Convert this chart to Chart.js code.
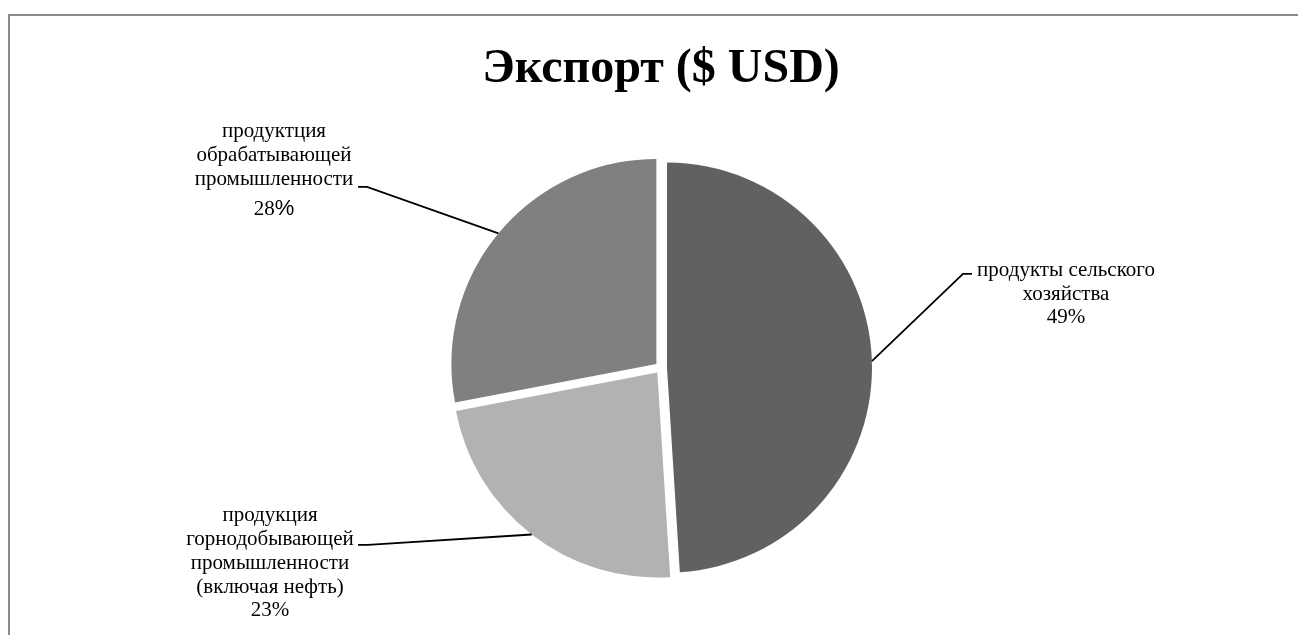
<!DOCTYPE html>
<html lang="ru">
<head>
<meta charset="utf-8">
<title>Экспорт ($ USD)</title>
<script src="https://cdn.jsdelivr.net/npm/chart.js@4"></script>
<style>
    html, body { margin: 0; padding: 0; background: #fff; overflow: hidden; }
    #frame {
        position: absolute; left: 8px; top: 14px;
        width: 1320px; height: 680px;
        border: 2px solid #8a8a8a;
    }
    #box { position: absolute; left: 0; top: 0; width: 1300px; height: 660px; }
</style>
</head>
<body>
<div id="frame"><div id="box"><canvas id="exportChart"></canvas></div></div>
<script>
// Export structure, shares in percent
const categories = [
    ['продукты сельского', 'хозяйства'],
    ['продукция', 'горнодобывающей', 'промышленности', '(включая нефть)'],
    ['продуктция', 'обрабатывающей', 'промышленности']
];
const shares = [49, 23, 28];
const sliceColors = ['#616161', '#b2b2b2', '#808080'];

// how far each slice is pulled out of the pie, px
const explode = 6;

// label placement relative to the pie centre: text centre x, baselines, leader elbow
const labelPlacement = [
    {x: 405, baselines: [-92, -68, -45], elbow: [302, -94], hook: 311},
    {x: -391, baselines: [153, 177, 201, 225, 248], elbow: [-293, 177], hook: -303},
    {x: -387, baselines: [-231, -207, -183, -153], elbow: [-294, -181], hook: -303, pctFont: '22px "Liberation Sans"'}
];
const labelFont = '21px "Liberation Serif"';

// draws the slices pulled apart along their middle angle
const explodedPie = {
    id: 'explodedPie',
    beforeDatasetsDraw(chart) {
        const ctx = chart.ctx;
        chart.getDatasetMeta(0).data.forEach((arc, i) => {
            const {x, y, startAngle, endAngle, outerRadius} = arc.getProps(['x', 'y', 'startAngle', 'endAngle', 'outerRadius'], true);
            const mid = (startAngle + endAngle) / 2;
            const cx = x + Math.cos(mid) * explode;
            const cy = y + Math.sin(mid) * explode;
            ctx.save();
            ctx.beginPath();
            ctx.moveTo(cx, cy);
            ctx.arc(cx, cy, outerRadius, startAngle, endAngle);
            ctx.closePath();
            ctx.fillStyle = arc.options.backgroundColor;
            ctx.fill();
            ctx.restore();
        });
        return false;
    },
    afterDraw(chart) {
        const ctx = chart.ctx;
        chart.getDatasetMeta(0).data.forEach((arc, i) => {
            const {x, y, startAngle, endAngle, outerRadius} = arc.getProps(['x', 'y', 'startAngle', 'endAngle', 'outerRadius'], true);
            const mid = (startAngle + endAngle) / 2;
            const p = labelPlacement[i];
            const ax = x + Math.cos(mid) * (explode + outerRadius);
            const ay = y + Math.sin(mid) * (explode + outerRadius);

            ctx.save();
            // leader line
            ctx.strokeStyle = '#000';
            ctx.lineWidth = 1.8;
            ctx.beginPath();
            ctx.moveTo(ax, ay);
            ctx.lineTo(x + p.elbow[0], y + p.elbow[1]);
            ctx.lineTo(x + p.hook, y + p.elbow[1]);
            ctx.stroke();

            // category name and share
            ctx.fillStyle = '#000';
            ctx.textBaseline = 'alphabetic';
            ctx.textAlign = 'center';
            ctx.font = labelFont;
            const lines = categories[i];
            lines.forEach((line, k) => {
                ctx.fillText(line, x + p.x, y + p.baselines[k]);
            });
            const num = String(shares[i]);
            const by = y + p.baselines[lines.length];
            if (p.pctFont) {
                ctx.font = labelFont;
                const wNum = ctx.measureText(num).width;
                ctx.font = p.pctFont;
                const wPct = ctx.measureText('%').width;
                const left = x + p.x - (wNum + wPct) / 2;
                ctx.textAlign = 'left';
                ctx.font = labelFont;
                ctx.fillText(num, left, by);
                ctx.font = p.pctFont;
                ctx.fillText('%', left + wNum, by);
            } else {
                ctx.fillText(num + '%', x + p.x, by);
            }
            ctx.restore();
        });
    }
};

const ctx = document.getElementById('exportChart').getContext('2d');
new Chart(ctx, {
    type: 'pie',
    data: {
        labels: categories.map(c => c.join(' ')),
        datasets: [{
            data: shares,
            backgroundColor: sliceColors,
            borderWidth: 0,
            radius: 205
        }]
    },
    options: {
        responsive: true,
        maintainAspectRatio: false,
        animation: false,
        events: [],
        layout: {padding: {left: 2, right: 0, top: 0, bottom: 39}},
        plugins: {
            legend: {display: false},
            tooltip: {enabled: false},
            title: {
                display: true,
                text: 'Экспорт ($ USD)',
                color: '#000',
                font: {family: '"Liberation Serif"', size: 48, weight: 'bold', lineHeight: 1.2},
                padding: {top: 25, bottom: 0}
            }
        }
    },
    plugins: [explodedPie]
});
</script>
</body>
</html>
